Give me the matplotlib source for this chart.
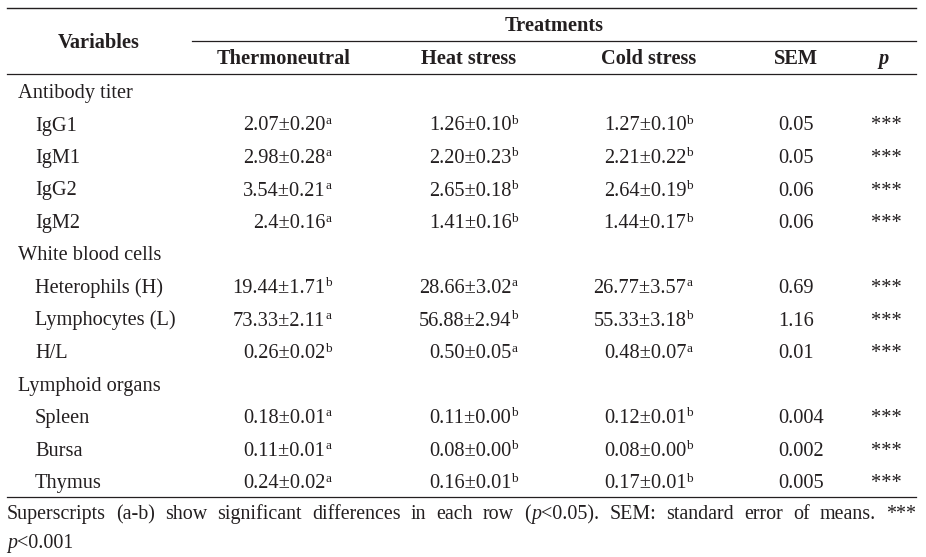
import matplotlib
matplotlib.use('Agg')
import matplotlib.pyplot as plt

plt.rcParams['font.family'] = ['Liberation Serif', 'DejaVu Serif']

# Données du tableau
groups = ['Antibody titer', 'White blood cells', 'Lymphoid organs']
group_items = [['IgG1', 'IgM1', 'IgG2', 'IgM2'],
               ['Heterophils (H)', 'Lymphocytes (L)', 'H/L'],
               ['Spleen', 'Bursa', 'Thymus']]

thermoneutral = ['2.07±0.20', '2.98±0.28', '3.54±0.21', '2.4±0.16', '19.44±1.71',
                 '73.33±2.11', '0.26±0.02', '0.18±0.01', '0.11±0.01', '0.24±0.02']
thermo_sup = ['a', 'a', 'a', 'a', 'b', 'a', 'b', 'a', 'a', 'a']
heat_stress = ['1.26±0.10', '2.20±0.23', '2.65±0.18', '1.41±0.16', '28.66±3.02',
               '56.88±2.94', '0.50±0.05', '0.11±0.00', '0.08±0.00', '0.16±0.01']
heat_sup = ['b', 'b', 'b', 'b', 'a', 'b', 'a', 'b', 'b', 'b']
cold_stress = ['1.27±0.10', '2.21±0.22', '2.64±0.19', '1.44±0.17', '26.77±3.57',
               '55.33±3.18', '0.48±0.07', '0.12±0.01', '0.08±0.00', '0.17±0.01']
cold_sup = ['b', 'b', 'b', 'b', 'a', 'b', 'a', 'b', 'b', 'b']
sem = ['0.05', '0.05', '0.06', '0.06', '0.69', '1.16', '0.01', '0.004', '0.002', '0.005']
p_values = ['***'] * 10

col_headers = ['Thermoneutral', 'Heat stress', 'Cold stress', 'SEM', 'p']

# Mise en page (pixels)
W, H = 926, 557
FS = 14.7
SUP_FS = 9.5
INK = '#231f20'
x_left, x_right = 7, 916
row_y0, row_step = 91, 32.5

fig = plt.figure(figsize=(W / 100, H / 100), dpi=100)
ax = fig.add_axes([0, 0, 1, 1])
ax.set_xlim(0, W)
ax.set_ylim(H, 0)
ax.axis('off')


def txt(x, y, s, ha='left', size=FS, weight='normal', style='normal'):
    return ax.text(x, y + 7, s, ha=ha, va='baseline', fontsize=size,
                   fontweight=weight, fontstyle=style, color=INK)


# Lignes horizontales
ax.plot([x_left, x_right], [8, 8], color=INK, lw=1.0)
ax.plot([192, x_right], [40.5, 40.5], color=INK, lw=0.9)
ax.plot([x_left, x_right], [73.5, 73.5], color=INK, lw=0.9)
ax.plot([x_left, x_right], [497, 497], color=INK, lw=0.9)

# En-têtes
txt(99, 41, 'Variables', ha='center', weight='bold')
txt(554, 24, 'Treatments', ha='center', weight='bold')
header_x = [284, 469, 649, 796, 884]
for hx, h in zip(header_x, col_headers):
    txt(hx, 57, h, ha='center', weight='bold', style='italic' if h == 'p' else 'normal')

# Corps du tableau
value_cols = [(thermoneutral, thermo_sup, 332), (heat_stress, heat_sup, 518),
              (cold_stress, cold_sup, 693)]
row = 0
k = 0
for g, items in zip(groups, group_items):
    y = row_y0 + row * row_step
    txt(18, y, g)
    row += 1
    for it in items:
        y = row_y0 + row * row_step
        txt(35, y, it)
        for vals, sups, xr in value_cols:
            txt(xr - 6.5, y, vals[k], ha='right')
            ax.text(xr - 6.5, y + 0.5, sups[k], ha='left', va='baseline',
                    fontsize=SUP_FS, color=INK)
        txt(778, y, sem[k])
        txt(886, y, p_values[k], ha='center', size=FS)
        row += 1
        k += 1

# Note de bas de tableau, justifiée
renderer = fig.canvas.get_renderer()
note_fs = 14.4
words = [[('Superscripts', 'normal')], [('(a-b)', 'normal')], [('show', 'normal')],
         [('significant', 'normal')], [('differences', 'normal')], [('in', 'normal')],
         [('each', 'normal')], [('row', 'normal')],
         [('(', 'normal'), ('p', 'italic'), ('<0.05).', 'normal')],
         [('SEM:', 'normal')], [('standard', 'normal')], [('error', 'normal')],
         [('of', 'normal')], [('means.', 'normal')], [('***', 'normal')]]
pieces = []
widths = []
for w in words:
    ts = []
    tw = 0
    for s, st in w:
        t = ax.text(0, 519, s, ha='left', va='baseline', fontsize=note_fs,
                    fontstyle=st, color=INK)
        ww = t.get_window_extent(renderer).width
        ts.append((t, ww))
        tw += ww
    pieces.append(ts)
    widths.append(tw)
gap = (x_right - x_left - sum(widths)) / (len(words) - 1)
x = x_left
for ts, tw in zip(pieces, widths):
    xx = x
    for t, ww in ts:
        t.set_x(xx)
        xx += ww
    x += tw + gap

t = ax.text(x_left, 548, 'p', ha='left', va='baseline', fontsize=note_fs,
            fontstyle='italic', color=INK)
pw = t.get_window_extent(renderer).width
ax.text(x_left + pw, 548, '<0.001', ha='left', va='baseline', fontsize=note_fs, color=INK)

fig.savefig('out.png', dpi=100)
